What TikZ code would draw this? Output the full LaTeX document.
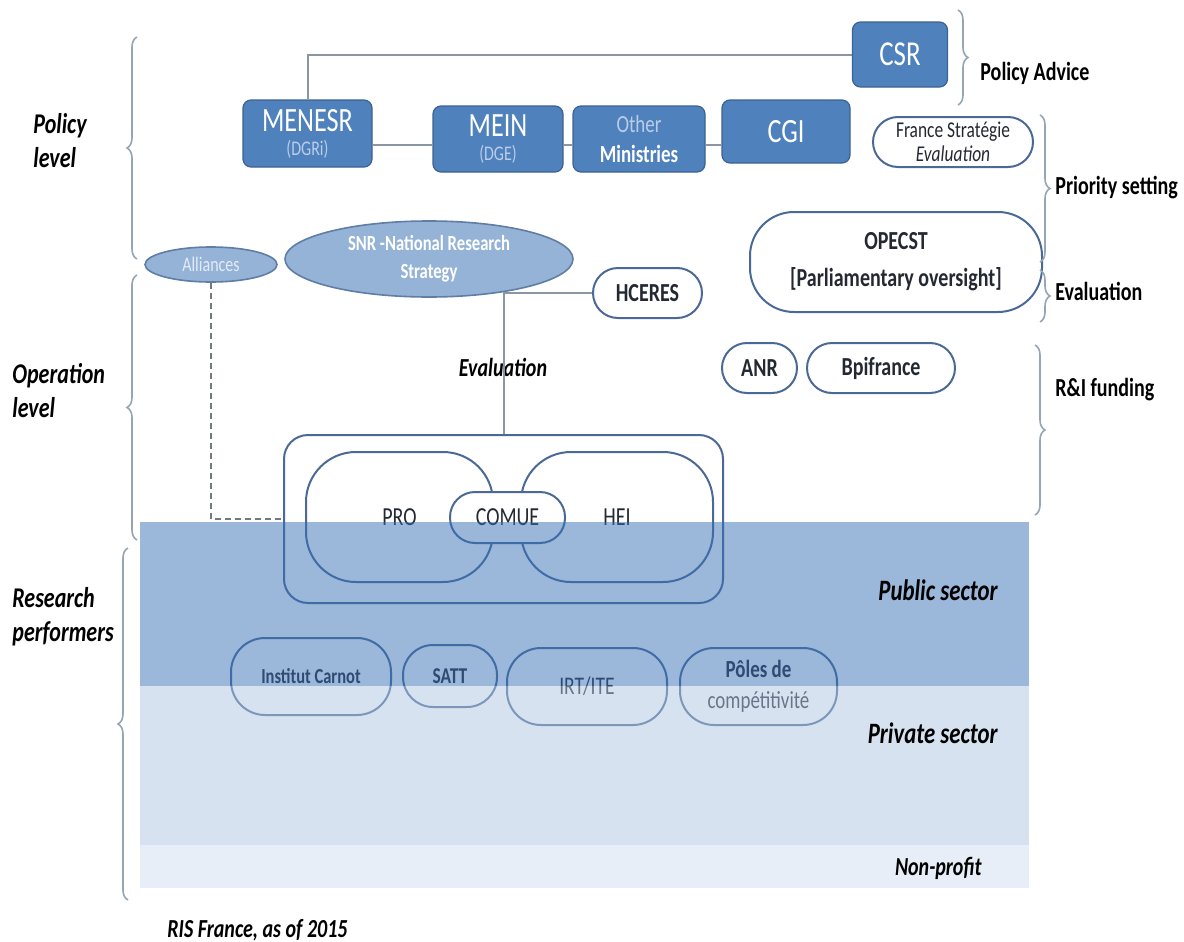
\documentclass[tikz,border=0pt]{standalone}
\usepackage{fontspec}
\setmainfont{Carlito}[FakeStretch=0.77]
\usetikzlibrary{shapes.geometric,decorations.pathreplacing}

\definecolor{boxblue}{RGB}{79,129,189}
\definecolor{boxedge}{RGB}{60,98,145}
\definecolor{ovalblue}{RGB}{149,179,215}
\definecolor{ovaledge}{RGB}{95,125,165}
\definecolor{pilledge}{RGB}{75,105,150}
\definecolor{conngray}{RGB}{140,150,162}
\definecolor{bracegray}{RGB}{150,165,180}
\definecolor{subtxt}{RGB}{185,205,232}
\definecolor{darktxt}{RGB}{35,40,50}
\definecolor{publicband}{RGB}{55,111,181}
\definecolor{privateband}{RGB}{175,197,225}
\definecolor{nonprofitband}{RGB}{209,221,239}

\tikzset{
  topbox/.style={draw=boxedge, line width=0.6pt, fill=boxblue, rounded corners=4pt,
    text=white, inner sep=0pt, align=center},
  pill/.style={draw=pilledge, line width=1pt, rounded corners=#1, inner sep=0pt,
    align=center, text=darktxt},
  pill/.default=12.5pt,
  oval/.style={ellipse, draw=ovaledge, line width=0.8pt, fill=ovalblue, inner sep=0pt,
    align=center, text=white},
  conn/.style={draw=conngray, line width=1pt},
  bracel/.style={draw=bracegray, line width=0.8pt, decorate, decoration={brace, amplitude=5pt}},
  lvl/.style={anchor=west, align=left, inner sep=0pt, font=\fontsize{14.3}{17}\selectfont\bfseries\itshape},
  sidelbl/.style={anchor=west, inner sep=0pt, font=\fontsize{13}{15}\selectfont\bfseries},
  sectorlbl/.style={anchor=east, inner sep=0pt, font=\fontsize{14.8}{17}\selectfont\bfseries\itshape}
}

\begin{document}
\begin{tikzpicture}[x=0.5pt, y=-0.5pt]
\useasboundingbox (0,0) rectangle (1184,942);

% policy level boxes
\node[topbox, minimum width=47.5pt, minimum height=32.5pt, font=\fontsize{17.5}{19}\selectfont] (csr) at (900,54.5) {CSR};
\node[topbox, minimum width=64.5pt, minimum height=33.5pt] (menesr) at (307.5,133.5)
  {\fontsize{17}{17}\selectfont MENESR\\{\fontsize{10.4}{11}\selectfont\color{subtxt}(DGRi)}};
\node[topbox, minimum width=65pt, minimum height=33pt] (mein) at (498,139)
  {\fontsize{17}{17}\selectfont MEIN\\{\fontsize{10.4}{11}\selectfont\color{subtxt}(DGE)}};
\node[topbox, minimum width=66pt, minimum height=33pt, font=\fontsize{12.3}{15}\selectfont] (other) at (639,139)
  {{\color{subtxt}Other}\\\textbf{Ministries}};
\node[topbox, minimum width=64pt, minimum height=31.5pt, font=\fontsize{17}{19}\selectfont] (cgi) at (786,131.5) {CGI};
\node[pill, minimum width=80pt, minimum height=25pt, font=\fontsize{11.3}{12}\selectfont] (francestrat) at (953,142)
  {France Stratégie\\\textit{Evaluation}};

% operation level
\node[oval, minimum width=66pt, minimum height=17.5pt, font=\fontsize{10.4}{12}\selectfont, text=subtxt!40!white] (alliances) at (211,264.5) {Alliances};
\node[oval, minimum width=144pt, minimum height=38pt, font=\fontsize{10.8}{14}\selectfont\bfseries] (snr) at (429,259)
  {SNR -National Research\\Strategy};
\node[pill, minimum width=54.5pt, minimum height=25pt, font=\fontsize{13}{15}\selectfont\bfseries] (hceres) at (647.5,293) {HCERES};
\node[pill=22pt, minimum width=146pt, minimum height=50pt, font=\fontsize{13}{18.5}\selectfont\bfseries] (opecst) at (896,262)
  {OPECST\\{}[Parliamentary oversight]};
\node[pill, minimum width=37.5pt, minimum height=25pt, font=\fontsize{13}{15}\selectfont\bfseries] (anr) at (759.5,368) {ANR};
\node[pill, minimum width=74pt, minimum height=25pt, font=\fontsize{13}{15}\selectfont\bfseries] (bpi) at (881,368) {Bpifrance};
\node[font=\fontsize{13}{15}\selectfont\bfseries\itshape] (evallbl) at (503,367) {Evaluation};

% research performers
\node[pill=12pt, minimum width=219.5pt, minimum height=84pt] (outer) at (503.5,519) {};
\node[pill=25pt, minimum width=93.5pt, minimum height=65pt, font=\fontsize{13}{15}\selectfont] (pro) at (399.5,517) {PRO};
\node[pill=25pt, minimum width=96pt, minimum height=65pt, font=\fontsize{13}{15}\selectfont] (hei) at (617,517) {HEI};
\node[pill, fill=white, minimum width=57.5pt, minimum height=25.5pt, font=\fontsize{13}{15}\selectfont] (comue) at (507.5,517.5) {COMUE};
\node[pill=17pt, minimum width=80pt, minimum height=38.5pt, font=\fontsize{10.7}{13}\selectfont\bfseries] (carnot) at (311,676.5) {Institut Carnot};
\node[pill=15pt, minimum width=47pt, minimum height=31pt, font=\fontsize{11.3}{13}\selectfont\bfseries] (satt) at (450,676) {SATT};
\node[pill=17pt, minimum width=80pt, minimum height=38.5pt, font=\fontsize{12.7}{15}\selectfont] (irt) at (587,686.5) {IRT/ITE};
\node[pill=17pt, minimum width=78.5pt, minimum height=38.5pt, font=\fontsize{12.3}{15.5}\selectfont] (poles) at (758.5,686.5)
  {\textbf{Pôles de}\\compétitivité};

% connectors
\coordinate (midrow) at (0,145);
\draw[conn] (menesr.north) |- (csr.west);
\draw[conn] (menesr.east |- midrow) -- (mein.west |- midrow);
\draw[conn] (mein.east |- midrow) -- (other.west |- midrow);
\draw[conn] (other.east |- midrow) -- (cgi.west |- midrow);
\draw[conn] (hceres.west) -| (outer.north);
\draw[conn, draw=conngray!80!black, dash pattern=on 3pt off 2pt] (alliances.south) |- (outer.west);

% sector bands
\fill[publicband, fill opacity=0.5] (140,522) rectangle (1029,686);
\fill[privateband, fill opacity=0.5] (140,686) rectangle (1029,845);
\fill[nonprofitband, fill opacity=0.5] (140,845) rectangle (1029,888);
\node[sectorlbl] (publbl) at (998,590) {Public sector};
\node[sectorlbl] (privlbl) at (998,733) {Private sector};
\node[sectorlbl, font=\fontsize{13}{15}\selectfont\bfseries\itshape] (nonproflbl) at (982,868) {Non-profit};

% braces and level labels
\draw[bracel] (137,259) -- (137,37);
\draw[bracel] (137,540) -- (137,275);
\draw[bracel] (128,900) -- (128,548);
\draw[bracel] (958,10) -- (958,105);
\draw[bracel] (1040,115) -- (1040,262);
\draw[bracel] (1040,270) -- (1040,322);
\draw[bracel] (1035,345) -- (1035,515);
\node[lvl] (lvpolicy) at (33,141) {Policy\\level};
\node[lvl] (lvoper) at (12,391) {Operation\\level};
\node[lvl] (lvres) at (12,617) {Research\\performers};
\node[sidelbl] (advice) at (980,73) {Policy Advice};
\node[sidelbl] (priority) at (1055,188) {Priority setting};
\node[sidelbl] (evalside) at (1055,291) {Evaluation};
\node[sidelbl] (funding) at (1055,390) {R\&I funding};
\node[anchor=west, inner sep=0pt, font=\fontsize{13}{15}\selectfont\bfseries\itshape] (caption) at (167,930) {RIS France, as of 2015};
\end{tikzpicture}
\end{document}
